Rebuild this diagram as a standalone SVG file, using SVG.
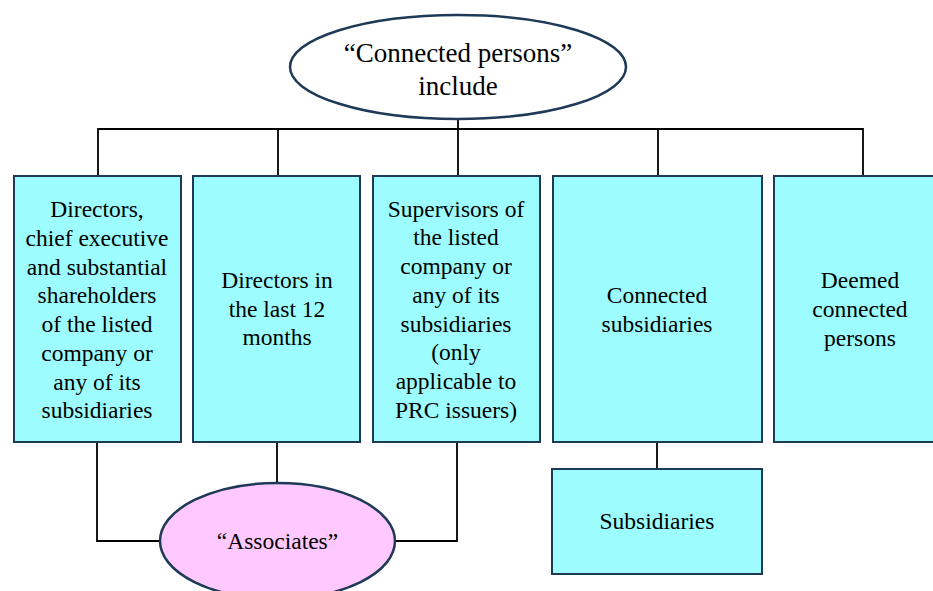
<svg xmlns="http://www.w3.org/2000/svg" width="933" height="591" viewBox="0 0 933 591">
  <style>
    .box { fill: #9dfdfe; stroke: #1f3a56; stroke-width: 2; }
    .oval { stroke: #1f3a56; stroke-width: 2.5; }
    .link { fill: none; stroke: #000; stroke-width: 1.8; }
  </style>
  <rect width="933" height="591" fill="#fff"/>

  <!-- connectors: plain black elbow lines -->
  <g id="connectors">
    <polyline class="link" points="98,176 98,129 863,129 863,176"/>
    <line class="link" x1="278" y1="129" x2="278" y2="176"/>
    <line class="link" x1="458" y1="120" x2="458" y2="176"/>
    <line class="link" x1="658" y1="129" x2="658" y2="176"/>
    <polyline class="link" points="97,443 97,541 160,541"/>
    <line class="link" x1="277" y1="443" x2="277" y2="483"/>
    <polyline class="link" points="457,443 457,541 395,541"/>
    <line class="link" x1="657" y1="443" x2="657" y2="469"/>
  </g>

  <g id="connected-persons">
    <ellipse class="oval" cx="458" cy="67" rx="168" ry="52" fill="#fff"/>
    <text style="font-family:'Liberation Serif',serif;font-size:27px;text-anchor:middle;fill:#000" x="458" y="62">“Connected persons”</text>
    <text style="font-family:'Liberation Serif',serif;font-size:27px;text-anchor:middle;fill:#000" x="458" y="95">include</text>
  </g>

  <g id="directors">
    <rect class="box" x="14" y="176" width="167" height="266"/>
    <text style="font-family:'Liberation Serif',serif;font-size:23.5px;text-anchor:middle;fill:#000" x="97" y="217">Directors,</text>
    <text style="font-family:'Liberation Serif',serif;font-size:23.5px;text-anchor:middle;fill:#000" x="97" y="246">chief executive</text>
    <text style="font-family:'Liberation Serif',serif;font-size:23.5px;text-anchor:middle;fill:#000" x="97" y="275">and substantial</text>
    <text style="font-family:'Liberation Serif',serif;font-size:23.5px;text-anchor:middle;fill:#000" x="97" y="303">shareholders</text>
    <text style="font-family:'Liberation Serif',serif;font-size:23.5px;text-anchor:middle;fill:#000" x="97" y="332">of the listed</text>
    <text style="font-family:'Liberation Serif',serif;font-size:23.5px;text-anchor:middle;fill:#000" x="97" y="361">company or</text>
    <text style="font-family:'Liberation Serif',serif;font-size:23.5px;text-anchor:middle;fill:#000" x="97" y="390">any of its</text>
    <text style="font-family:'Liberation Serif',serif;font-size:23.5px;text-anchor:middle;fill:#000" x="97" y="418">subsidiaries</text>
  </g>

  <g id="past-directors">
    <rect class="box" x="193" y="176" width="167" height="266"/>
    <text style="font-family:'Liberation Serif',serif;font-size:23.5px;text-anchor:middle;fill:#000" x="277" y="288">Directors in</text>
    <text style="font-family:'Liberation Serif',serif;font-size:23.5px;text-anchor:middle;fill:#000" x="277" y="317">the last 12</text>
    <text style="font-family:'Liberation Serif',serif;font-size:23.5px;text-anchor:middle;fill:#000" x="277" y="345">months</text>
  </g>

  <g id="supervisors">
    <rect class="box" x="373" y="176" width="167" height="266"/>
    <text style="font-family:'Liberation Serif',serif;font-size:23.5px;text-anchor:middle;fill:#000" x="456" y="217">Supervisors of</text>
    <text style="font-family:'Liberation Serif',serif;font-size:23.5px;text-anchor:middle;fill:#000" x="456" y="245">the listed</text>
    <text style="font-family:'Liberation Serif',serif;font-size:23.5px;text-anchor:middle;fill:#000" x="456" y="274">company or</text>
    <text style="font-family:'Liberation Serif',serif;font-size:23.5px;text-anchor:middle;fill:#000" x="456" y="303">any of its</text>
    <text style="font-family:'Liberation Serif',serif;font-size:23.5px;text-anchor:middle;fill:#000" x="456" y="332">subsidiaries</text>
    <text style="font-family:'Liberation Serif',serif;font-size:23.5px;text-anchor:middle;fill:#000" x="456" y="360">(only</text>
    <text style="font-family:'Liberation Serif',serif;font-size:23.5px;text-anchor:middle;fill:#000" x="456" y="389">applicable to</text>
    <text style="font-family:'Liberation Serif',serif;font-size:23.5px;text-anchor:middle;fill:#000" x="456" y="418">PRC issuers)</text>
  </g>

  <g id="connected-subsidiaries">
    <rect class="box" x="553" y="176" width="209" height="266"/>
    <text style="font-family:'Liberation Serif',serif;font-size:23.5px;text-anchor:middle;fill:#000" x="657" y="303">Connected</text>
    <text style="font-family:'Liberation Serif',serif;font-size:23.5px;text-anchor:middle;fill:#000" x="657" y="332">subsidiaries</text>
  </g>

  <g id="deemed">
    <rect class="box" x="774" y="176" width="172" height="266"/>
    <text style="font-family:'Liberation Serif',serif;font-size:23.5px;text-anchor:middle;fill:#000" x="860" y="288">Deemed</text>
    <text style="font-family:'Liberation Serif',serif;font-size:23.5px;text-anchor:middle;fill:#000" x="860" y="317">connected</text>
    <text style="font-family:'Liberation Serif',serif;font-size:23.5px;text-anchor:middle;fill:#000" x="860" y="346">persons</text>
  </g>

  <g id="associates">
    <ellipse class="oval" cx="277.5" cy="541" rx="117.5" ry="58" fill="#ffc8ff"/>
    <text style="font-family:'Liberation Serif',serif;font-size:23.5px;text-anchor:middle;fill:#000" x="277.5" y="549">“Associates”</text>
  </g>

  <g id="subsidiaries">
    <rect class="box" x="552" y="469" width="210" height="105"/>
    <text style="font-family:'Liberation Serif',serif;font-size:23.5px;text-anchor:middle;fill:#000" x="657" y="529">Subsidiaries</text>
  </g>
</svg>
